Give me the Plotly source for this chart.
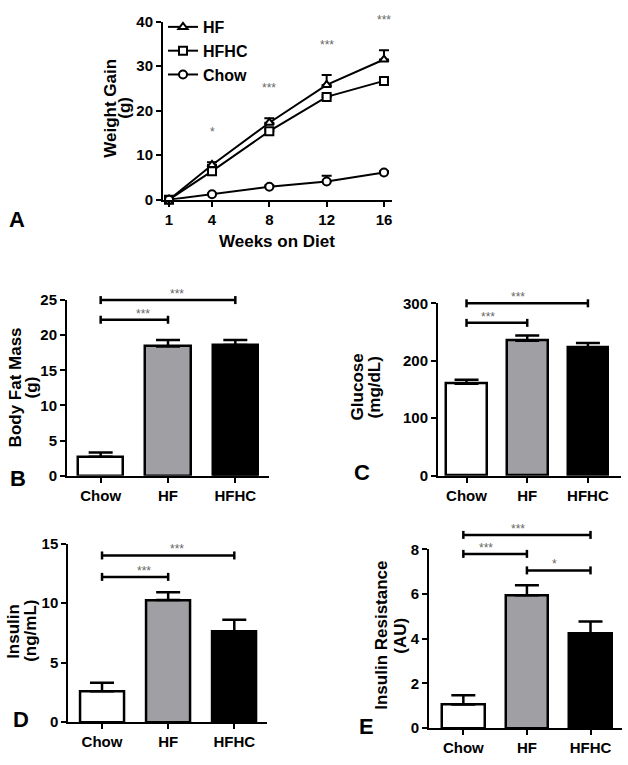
import plotly.graph_objects as go

W, H = 628, 765
FONT = "Arial, 'Liberation Sans', sans-serif"

# ---------------- Data ----------------
weeks = [1, 4, 8, 12, 16]
hf_gain = [0, 7.8, 17.3, 25.8, 31.5]
hf_gain_err = [0, 0.6, 1.0, 2.2, 2.1]
hfhc_gain = [0, 6.4, 15.4, 23.1, 26.7]
hfhc_gain_err = [0, 0.3, 0.5, 0.5, 0.5]
chow_gain = [0, 1.2, 2.9, 4.1, 6.1]
chow_gain_err = [0, 0.2, 0.3, 1.3, 0.3]
weekly_sig = ["", "*", "***", "***", "***"]

groups = ["Chow", "HF", "HFHC"]
bar_colors = ["#ffffff", "#a0a0a4", "#000000"]

fat_mass = [2.7, 18.4, 18.6]
fat_mass_err = [0.6, 0.9, 0.7]
fat_mass_cmp = [(0, 2, 25.0, "***"), (0, 1, 22.2, "***")]

glucose = [160, 235, 223]
glucose_err = [7, 9, 8]
glucose_cmp = [(0, 2, 300, "***"), (0, 1, 266, "***")]

insulin = [2.6, 10.25, 7.6]
insulin_err = [0.7, 0.65, 1.0]
insulin_cmp = [(0, 2, 14.0, "***"), (0, 1, 12.2, "***")]

resistance = [1.05, 5.95, 4.22]
resistance_err = [0.42, 0.45, 0.55]
resistance_cmp = [(0, 2, 8.65, "***"), (0, 1, 7.8, "***"), (1, 2, 7.06, "*")]


def fx(px):
    return px / W


def fy(py):
    return 1 - py / H


def to_paper(v, rng, dom):
    return dom[0] + (v - rng[0]) / (rng[1] - rng[0]) * (dom[1] - dom[0])


fig = go.Figure()

# ---------------- Panel A: line chart ----------------
A_xdom = [fx(163), fx(392)]
A_ydom = [fy(195), fy(13)]
A_xr = [0.58, 16.56]
A_yr = [0, 40]

series = [
    ("HF", hf_gain, hf_gain_err, "triangle-up"),
    ("HFHC", hfhc_gain, hfhc_gain_err, "square"),
    ("Chow", chow_gain, chow_gain_err, "circle"),
]
for name, vals, errs, sym in series:
    fig.add_trace(go.Scatter(
        x=weeks, y=vals, name=name, mode="lines+markers",
        line=dict(color="black", width=2),
        marker=dict(symbol=sym, size=8, color="white",
                    line=dict(color="black", width=2)),
        error_y=dict(type="data", array=errs, arrayminus=[0] * len(errs),
                     symmetric=False, color="black", thickness=2, width=5),
        cliponaxis=False, xaxis="x", yaxis="y",
    ))

top_vals = [max(a + ea, b + eb, c + ec) for a, ea, b, eb, c, ec in
            zip(hf_gain, hf_gain_err, hfhc_gain, hfhc_gain_err, chow_gain, chow_gain_err)]
annotations = []
for wk, tv, s in zip(weeks, top_vals, weekly_sig):
    if s:
        annotations.append(dict(x=to_paper(wk, A_xr, A_xdom), y=to_paper(tv + 6.8, A_yr, A_ydom),
                                xref="paper", yref="paper", text=s, showarrow=False,
                                font=dict(family=FONT, size=12, color="#666666"),
                                xanchor="center", yanchor="middle"))

# ---------------- Bar panels ----------------
panels = [
    (fat_mass, fat_mass_err, fat_mass_cmp, 2, (67, 269), (297.7, 477.3), [0, 25], 5, [-0.5, 2.5]),
    (glucose, glucose_err, glucose_cmp, 3, (438, 620.7), (301, 477.3), [0, 300], 100, [-0.47, 2.54]),
    (insulin, insulin_err, insulin_cmp, 4, (68.3, 266.7), (546.7, 729.3), [0, 15], 5, [-0.51, 2.49]),
    (resistance, resistance_err, resistance_cmp, 5, (429, 622.3), (552.7, 735.3), [0, 8], 2, [-0.54, 2.5]),
]

shapes = []
axis_common = dict(showline=True, linecolor="black", linewidth=2, ticks="outside",
                   ticklen=5, tickwidth=2, tickcolor="black", showgrid=False,
                   zeroline=False, tickfont=dict(family=FONT, size=15, color="black", weight="bold"))

layout_axes = {}
for vals, errs, cmps, idx, xd, yd, yr, dt, xr in panels:
    xa, ya = f"x{idx}", f"y{idx}"
    xdom = [fx(xd[0]), fx(xd[1])]
    ydom = [fy(yd[1]), fy(yd[0])]
    fig.add_trace(go.Bar(
        x=list(range(len(groups))), y=vals, width=0.67,
        marker=dict(color=bar_colors, line=dict(color="black", width=2.5)),
        error_y=dict(type="data", array=errs, arrayminus=[0] * len(errs), symmetric=False,
                     color="black", thickness=2.5, width=12),
        showlegend=False, xaxis=xa, yaxis=ya,
    ))
    layout_axes[f"xaxis{idx}"] = dict(axis_common, domain=xdom, range=xr,
                                      anchor=ya, tickvals=list(range(len(groups))), ticktext=groups)
    layout_axes[f"yaxis{idx}"] = dict(axis_common, domain=ydom, range=yr,
                                      anchor=xa, dtick=dt, tick0=0)
    for a, b, yv, s in cmps:
        line = dict(color="black", width=2.5)
        pa, pb = to_paper(a, xr, xdom), to_paper(b, xr, xdom)
        py = to_paper(yv, yr, ydom)
        shapes.append(dict(type="line", xref="paper", yref="paper", x0=pa, x1=pb, y0=py, y1=py, line=line))
        for xe in (pa, pb):
            shapes.append(dict(type="line", xref="paper", yref="paper", x0=xe, x1=xe,
                               ysizemode="pixel", yanchor=py, y0=-4, y1=4, line=line))
        annotations.append(dict(x=(pa + pb) / 2, y=py, xref="paper", yref="paper", text=s,
                                showarrow=False, yanchor="bottom", yshift=-3,
                                font=dict(family=FONT, size=12, color="#666666")))

# ---------------- Titles and panel letters ----------------
title_font = dict(family=FONT, size=17, color="black", weight="bold")
ytitles = [
    ("Weight Gain", 111, 101), ("(g)", 125, 101),
    ("Body Fat Mass", 15, 387), ("(g)", 31, 387),
    ("Glucose", 357, 387), ("(mg/dL)", 374, 387),
    ("Insulin", 14, 636), ("(ng/mL)", 31, 636),
    ("Insulin Resistance", 382, 641), ("(AU)", 401, 641),
]
for txt, px, py in ytitles:
    annotations.append(dict(x=fx(px), y=fy(py), xref="paper", yref="paper", text=txt,
                            textangle=-90, showarrow=False, xanchor="center", yanchor="middle",
                            font=title_font))

annotations.append(dict(x=fx(277), y=fy(238), xref="paper", yref="paper", text="Weeks on Diet",
                        showarrow=False, xanchor="center", yanchor="middle", font=title_font))

letters = [("A", 17, 215), ("B", 18, 480), ("C", 362, 474), ("D", 21, 727), ("E", 366, 734)]
for txt, px, py in letters:
    annotations.append(dict(x=fx(px), y=fy(py), xref="paper", yref="paper", text=txt,
                            showarrow=False, xanchor="center", yanchor="middle",
                            font=dict(family=FONT, size=22, color="black", weight="bold")))

fig.update_layout(
    width=W, height=H, autosize=False,
    margin=dict(l=0, r=0, t=0, b=0),
    paper_bgcolor="white", plot_bgcolor="white",
    xaxis=dict(axis_common, domain=A_xdom, range=A_xr, tickvals=weeks, anchor="y"),
    yaxis=dict(axis_common, domain=A_ydom, range=A_yr, dtick=10, anchor="x"),
    legend=dict(x=fx(163), y=fy(1), xanchor="left", yanchor="top", bgcolor="rgba(0,0,0,0)",
                font=dict(family=FONT, size=16, color="black", weight="bold"),
                itemwidth=30, tracegroupgap=0),
    shapes=shapes, annotations=annotations, bargap=0,
    **layout_axes,
)

fig.write_html("out.html", config={"displayModeBar": False},
               post_script="document.body.style.margin='0';")
